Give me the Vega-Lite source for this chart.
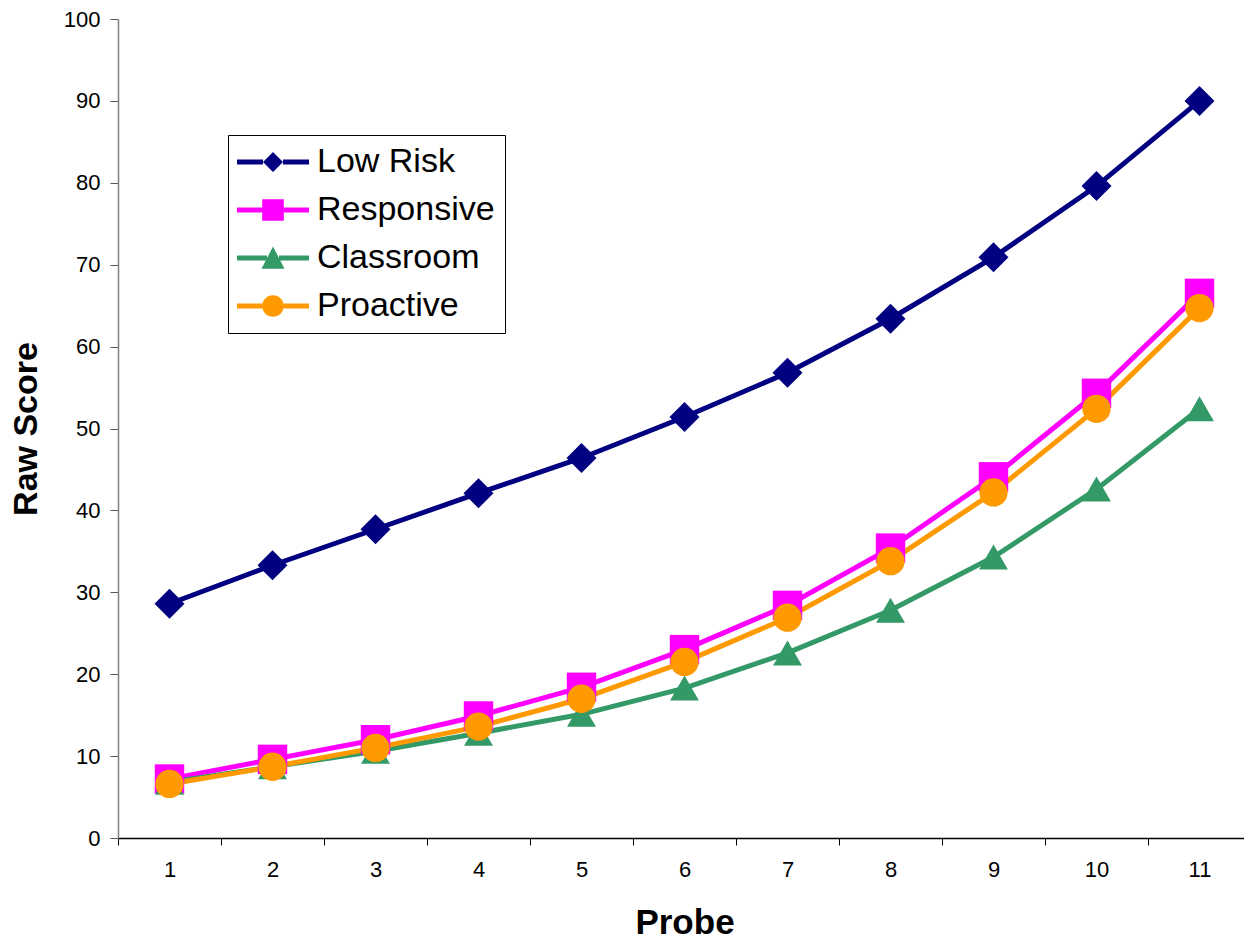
{
  "$schema": "https://vega.github.io/schema/vega-lite/v6.json",
  "autosize": {"type": "none"},
  "width": 1133,
  "height": 819,
  "padding": {"left": 118, "top": 19, "right": 0, "bottom": 104},
  "background": "white",
  "config": {
    "view": {"stroke": null},
    "font": "Liberation Sans",
    "axis": {"labelFont": "Liberation Sans", "titleFont": "Liberation Sans", "labelColor": "#000", "titleColor": "#000", "grid": false}
  },
  "data": {
    "values": [
      {"probe": 1, "series": "Low Risk", "score": 28.6},
      {"probe": 2, "series": "Low Risk", "score": 33.3},
      {"probe": 3, "series": "Low Risk", "score": 37.7},
      {"probe": 4, "series": "Low Risk", "score": 42.1},
      {"probe": 5, "series": "Low Risk", "score": 46.4},
      {"probe": 6, "series": "Low Risk", "score": 51.4},
      {"probe": 7, "series": "Low Risk", "score": 56.8},
      {"probe": 8, "series": "Low Risk", "score": 63.4},
      {"probe": 9, "series": "Low Risk", "score": 70.9},
      {"probe": 10, "series": "Low Risk", "score": 79.6},
      {"probe": 11, "series": "Low Risk", "score": 90.0},
      {"probe": 1, "series": "Responsive", "score": 7.2},
      {"probe": 2, "series": "Responsive", "score": 9.6},
      {"probe": 3, "series": "Responsive", "score": 12.0},
      {"probe": 4, "series": "Responsive", "score": 14.9},
      {"probe": 5, "series": "Responsive", "score": 18.4},
      {"probe": 6, "series": "Responsive", "score": 23.0},
      {"probe": 7, "series": "Responsive", "score": 28.4},
      {"probe": 8, "series": "Responsive", "score": 35.4},
      {"probe": 9, "series": "Responsive", "score": 44.1},
      {"probe": 10, "series": "Responsive", "score": 54.3},
      {"probe": 11, "series": "Responsive", "score": 66.5},
      {"probe": 1, "series": "Classroom", "score": 6.8},
      {"probe": 2, "series": "Classroom", "score": 8.7},
      {"probe": 3, "series": "Classroom", "score": 10.6},
      {"probe": 4, "series": "Classroom", "score": 12.8},
      {"probe": 5, "series": "Classroom", "score": 15.1},
      {"probe": 6, "series": "Classroom", "score": 18.3},
      {"probe": 7, "series": "Classroom", "score": 22.6},
      {"probe": 8, "series": "Classroom", "score": 27.8},
      {"probe": 9, "series": "Classroom", "score": 34.3},
      {"probe": 10, "series": "Classroom", "score": 42.6},
      {"probe": 11, "series": "Classroom", "score": 52.4},
      {"probe": 1, "series": "Proactive", "score": 6.6},
      {"probe": 2, "series": "Proactive", "score": 8.7},
      {"probe": 3, "series": "Proactive", "score": 11.0},
      {"probe": 4, "series": "Proactive", "score": 13.6},
      {"probe": 5, "series": "Proactive", "score": 17.0},
      {"probe": 6, "series": "Proactive", "score": 21.5},
      {"probe": 7, "series": "Proactive", "score": 26.9},
      {"probe": 8, "series": "Proactive", "score": 33.8},
      {"probe": 9, "series": "Proactive", "score": 42.2},
      {"probe": 10, "series": "Proactive", "score": 52.4},
      {"probe": 11, "series": "Proactive", "score": 64.7}
    ]
  },
  "encoding": {
    "x": {
      "field": "probe", "type": "ordinal", "sort": "ascending",
      "scale": {"type": "band", "paddingInner": 0, "paddingOuter": 0},
      "axis": {
        "title": "Probe", "titleFontSize": 35, "titleFontWeight": "bold", "titlePadding": 25,
        "labelAngle": 0, "labelFontSize": 22, "labelPadding": 14,
        "tickBand": "extent", "tickSize": 7, "tickColor": "#000", "domainColor": "#000", "domainWidth": 1.5
      }
    },
    "y": {
      "field": "score", "type": "quantitative",
      "scale": {"domain": [0, 100], "nice": false, "zero": true},
      "axis": {
        "title": "Raw Score", "titleFontSize": 34, "titleFontWeight": "bold", "titlePadding": 20,
        "values": [0, 10, 20, 30, 40, 50, 60, 70, 80, 90, 100],
        "labelFontSize": 22, "labelPadding": 10, "tickSize": 8,
        "tickColor": "#555", "domainColor": "#808080", "domainWidth": 1.5
      }
    }
  },
  "layer": [
    {
      "mark": {"type": "line", "strokeWidth": 5},
      "encoding": {
        "color": {
          "field": "series", "type": "nominal", "legend": null,
          "scale": {"domain": ["Low Risk", "Responsive", "Classroom", "Proactive"], "range": ["#000080", "#FF00FF", "#339966", "#FF9900"]}
        },
        "detail": {"field": "series"}
      }
    },
    {
      "mark": {"type": "point", "filled": true, "opacity": 1, "strokeWidth": 0},
      "encoding": {
        "color": {
          "field": "series", "type": "nominal", "legend": null,
          "scale": {"domain": ["Low Risk", "Responsive", "Classroom", "Proactive"], "range": ["#000080", "#FF00FF", "#339966", "#FF9900"]}
        },
        "shape": {
          "field": "series", "type": "nominal", "legend": null,
          "scale": {"domain": ["Low Risk", "Responsive", "Classroom", "Proactive"], "range": ["diamond", "square", "triangle-up", "circle"]}
        },
        "size": {
          "field": "series", "type": "nominal", "legend": null,
          "scale": {"domain": ["Low Risk", "Responsive", "Classroom", "Proactive"], "range": [900, 800, 950, 800]}
        }
      }
    },
    {
      "transform": [{"filter": "false"}],
      "mark": {"type": "point", "filled": true, "opacity": 1, "strokeWidth": 0},
      "encoding": {
        "x": null,
        "y": null,
        "color": {
          "field": "series", "type": "nominal",
          "scale": {"domain": ["Low Risk", "Responsive", "Classroom", "Proactive"], "range": ["#000080", "#FF00FF", "#339966", "#FF9900"]},
          "legend": {
            "title": null, "orient": "none", "legendX": 110, "legendY": 116,
            "strokeColor": "#000", "fillColor": "#fff", "padding": 10,
            "symbolSize": 400, "symbolOffset": 18, "symbolStrokeWidth": 0, "symbolOpacity": 1,
            "labelFont": "Liberation Sans", "labelFontSize": 34, "labelColor": "#000",
            "labelOffset": 27, "rowPadding": 14, "labelLimit": 400
          }
        },
        "shape": {
          "field": "series", "type": "nominal",
          "scale": {
            "domain": ["Low Risk", "Responsive", "Classroom", "Proactive"],
            "range": [
              "M-3.6,-0.25H-1V0.25H-3.6Z M1,-0.25H3.6V0.25H1Z M-1,0L0,-1L1,0L0,1Z",
              "M-3.6,-0.25H-1.08V0.25H-3.6Z M1.08,-0.25H3.6V0.25H1.08Z M-1.08,-1.08H1.08V1.08H-1.08Z",
              "M-3.6,-0.25H-0.6V0.25H-3.6Z M0.6,-0.25H3.6V0.25H0.6Z M0,-1.15L1.15,1.08H-1.15Z",
              "M-3.6,-0.25H-1.08V0.25H-3.6Z M1.08,-0.25H3.6V0.25H1.08Z M-1.08,0A1.08,1.08,0,1,0,1.08,0A1.08,1.08,0,1,0,-1.08,0Z"
            ]
          },
          "legend": {
            "title": null, "orient": "none", "legendX": 110, "legendY": 116,
            "strokeColor": "#000", "fillColor": "#fff", "padding": 10,
            "symbolSize": 400, "symbolOffset": 18, "symbolStrokeWidth": 0, "symbolOpacity": 1,
            "labelFont": "Liberation Sans", "labelFontSize": 34, "labelColor": "#000",
            "labelOffset": 27, "rowPadding": 14, "labelLimit": 400
          }
        }
      }
    }
  ],
  "resolve": {"scale": {"color": "independent", "shape": "independent", "size": "independent"}}
}
